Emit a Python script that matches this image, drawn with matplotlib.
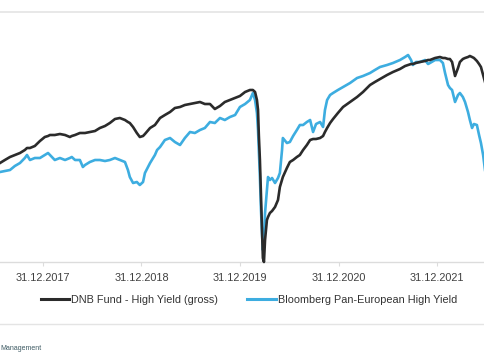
import matplotlib
matplotlib.use("Agg")
import matplotlib.pyplot as plt
import matplotlib.dates as mdates
import pandas as pd
from matplotlib.lines import Line2D

# Indexed performance
dates = [
    "2017-07-25", "2017-08-12", "2017-08-31", "2017-09-18", "2017-10-07", "2017-10-25", "2017-11-02",
    "2017-11-13", "2017-12-01", "2017-12-20", "2018-01-07", "2018-01-19", "2018-01-26", "2018-02-13",
    "2018-03-04", "2018-03-23", "2018-04-10", "2018-04-17", "2018-04-29", "2018-05-17", "2018-05-28",
    "2018-06-05", "2018-06-23", "2018-07-12", "2018-07-30", "2018-08-18", "2018-09-05", "2018-09-24",
    "2018-10-12", "2018-10-31", "2018-11-11", "2018-11-18", "2018-11-30", "2018-12-14", "2018-12-25",
    "2019-01-06", "2019-01-13", "2019-02-01", "2019-02-19", "2019-02-27", "2019-03-10", "2019-03-28",
    "2019-04-16", "2019-05-04", "2019-05-23", "2019-06-10", "2019-06-29", "2019-07-17", "2019-08-05",
    "2019-08-23", "2019-09-11", "2019-09-29", "2019-10-18", "2019-11-05", "2019-11-24", "2019-12-13",
    "2019-12-31", "2020-01-19", "2020-02-06", "2020-02-17", "2020-02-25", "2020-03-03", "2020-03-07",
    "2020-03-10", "2020-03-14", "2020-03-18", "2020-03-22", "2020-03-25", "2020-03-29", "2020-04-02",
    "2020-04-09", "2020-04-13", "2020-04-20", "2020-04-28", "2020-05-09", "2020-05-20", "2020-05-27",
    "2020-06-04", "2020-06-07", "2020-06-22", "2020-07-03", "2020-07-15", "2020-07-29", "2020-08-09",
    "2020-08-21", "2020-09-04", "2020-09-16", "2020-09-27", "2020-10-08", "2020-10-23", "2020-11-03",
    "2020-11-10", "2020-11-18", "2020-11-29", "2020-12-10", "2020-12-28", "2021-01-16", "2021-02-11",
    "2021-03-09", "2021-03-31", "2021-04-26", "2021-05-14", "2021-06-02", "2021-06-28", "2021-07-20",
    "2021-08-15", "2021-09-03", "2021-09-14", "2021-09-25", "2021-10-02", "2021-10-13", "2021-10-28",
    "2021-11-16", "2021-11-27", "2021-12-04", "2021-12-23", "2022-01-10", "2022-01-21", "2022-01-29",
    "2022-02-09", "2022-02-16", "2022-02-24", "2022-03-07", "2022-03-18", "2022-03-25", "2022-04-05",
    "2022-04-13", "2022-04-24", "2022-05-01", "2022-05-09", "2022-05-16", "2022-05-27", "2022-06-04",
    "2022-06-11", "2022-06-19", "2022-06-26",
]

fund = [
    100.00, 100.42, 100.84, 101.12, 101.40, 101.82, 102.10, 102.10, 102.38, 103.08, 103.64, 103.78,
    103.92, 103.92, 104.06, 103.92, 103.64, 103.78, 103.92, 104.20, 104.20, 104.20, 104.34, 104.48,
    104.90, 105.18, 105.60, 106.16, 106.30, 106.02, 105.74, 105.60, 105.04, 104.20, 103.64, 103.78,
    104.06, 104.90, 105.32, 105.74, 106.30, 106.72, 107.14, 107.70, 107.84, 108.12, 108.26, 108.40,
    108.54, 108.26, 108.26, 107.56, 107.98, 108.54, 108.82, 109.10, 109.38, 109.94, 110.22, 110.22,
    109.94, 108.82, 107.42, 103.92, 100.42, 95.52, 90.62, 86.70, 86.14, 89.22, 92.02, 92.44,
    93.00, 93.28, 93.84, 94.82, 96.64, 97.62, 98.04, 99.30, 100.14, 100.42, 100.84, 101.12,
    101.82, 102.52, 103.22, 103.36, 103.36, 103.50, 103.78, 104.34, 104.90, 105.60, 106.16, 107.00,
    107.84, 108.54, 109.24, 109.94, 110.92, 111.34, 111.76, 112.32, 112.74, 113.16, 113.58, 113.72,
    113.86, 113.86, 114.00, 114.14, 114.28, 114.42, 114.42, 114.70, 114.84, 114.70, 114.70, 114.56,
    114.56, 114.14, 112.18, 113.30, 114.14, 114.56, 114.70, 114.84, 114.98, 114.84, 114.70, 114.28,
    113.86, 113.44, 112.32, 111.34,
]

benchmark = [
    98.74, 98.88, 99.02, 99.58, 100.00, 100.70, 101.12, 100.42, 100.70, 100.70, 101.12, 101.40,
    101.12, 100.42, 100.70, 100.42, 100.70, 100.84, 100.42, 100.42, 99.44, 99.72, 100.14, 100.42,
    100.42, 100.28, 100.42, 100.70, 100.42, 100.14, 99.02, 98.04, 97.20, 97.34, 96.92, 97.34,
    98.60, 100.00, 101.12, 101.82, 102.24, 103.22, 103.50, 102.94, 102.52, 103.50, 104.34, 104.20,
    104.62, 104.90, 105.74, 105.60, 106.30, 106.02, 106.44, 106.72, 107.84, 108.26, 108.82, 109.80,
    108.82, 107.00, 104.62, 101.82, 98.04, 93.42, 89.92, 87.82, 89.22, 93.00, 96.22, 98.04,
    97.62, 97.90, 97.20, 97.90, 98.60, 101.82, 103.50, 102.80, 102.94, 103.78, 104.62, 105.32,
    105.32, 105.74, 106.02, 104.34, 105.46, 105.74, 105.04, 107.42, 108.82, 109.52, 109.80, 110.22,
    110.64, 111.20, 111.90, 112.18, 112.60, 113.02, 113.44, 113.72, 114.00, 114.42, 114.84, 115.12,
    114.42, 113.72, 114.14, 114.14, 114.42, 113.86, 114.00, 114.42, 114.42, 114.00, 112.60, 110.92,
    110.50, 110.22, 108.54, 109.52, 109.80, 109.24, 108.54, 107.14, 106.02, 104.90, 105.46, 105.32,
    103.92, 102.80, 101.12, 99.02,
]

tick_dates = ["2017-12-31", "2018-12-31", "2019-12-31", "2020-12-31", "2021-12-31"]
tick_labels = ["31.12.2017", "31.12.2018", "31.12.2019", "31.12.2020", "31.12.2021"]
series_names = ["DNB Fund - High Yield (gross)", "Bloomberg Pan-European High Yield"]


def main():
    plt.rcParams["font.family"] = ["Liberation Sans", "DejaVu Sans"]

    x = pd.to_datetime(dates)
    color_fund = "#2b2b2b"
    color_bench = "#3dade0"
    grey = "#dcdcdc"

    fig = plt.figure(figsize=(4.85, 3.6), dpi=100)
    ax = fig.add_axes([0, 1 - 262 / 360, 1, 250 / 360])

    ax.plot(x, fund, color=color_fund, lw=1.9, clip_on=False, zorder=3)
    ax.plot(x, benchmark, color=color_bench, lw=1.9, clip_on=False, zorder=2)

    ax.set_xlim(pd.Timestamp(dates[0]), pd.Timestamp(dates[-1]))
    ax.set_ylim(86.14, 121.14)

    ax.set_xticks(pd.to_datetime(tick_dates))
    ax.set_xticklabels(tick_labels)
    ax.set_yticks([])
    ax.tick_params(axis="x", length=3, width=0.8, color=grey, pad=5,
                   labelsize=7.8, labelcolor="#404040")

    for side in ["top", "left", "right"]:
        ax.spines[side].set_visible(False)
    ax.spines["bottom"].set_color(grey)
    ax.spines["bottom"].set_linewidth(1.0)
    ax.patch.set_alpha(0)

    # thin grey rules above the plot and under the legend
    fig.add_artist(Line2D([0, 1], [1 - 12 / 360] * 2, color="#e4e4e4", lw=1.2))
    fig.add_artist(Line2D([0, 1], [1 - 324 / 360] * 2, color="#e4e4e4", lw=1.0))

    handles = [Line2D([], [], color=color_fund, lw=2.2),
               Line2D([], [], color=color_bench, lw=2.2)]
    fig.legend(handles, series_names, loc="center", bbox_to_anchor=(249 / 485, 1 - 300 / 360),
               ncol=2, frameon=False, fontsize=7.8, handlelength=2.6, handletextpad=0.2,
               columnspacing=2.7, labelcolor="#333333")

    fig.text(0, 1 - 349 / 360, "Management", fontsize=5, color="#3d5a63", ha="left", va="center")

    fig.savefig("out.png", dpi=100)


if __name__ == "__main__":
    main()
